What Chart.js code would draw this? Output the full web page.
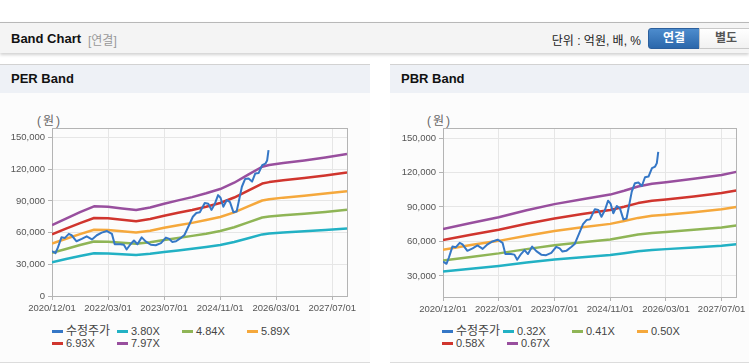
<!DOCTYPE html>
<html lang="ko">
<head>
<meta charset="utf-8">
<title>Band Chart</title>
<script src="https://cdn.jsdelivr.net/npm/chart.js@4.4.0/dist/chart.umd.js"></script>
<style>
    html, body { margin: 0; padding: 0; background: #fff; }
    body {
        position: relative; width: 749px; height: 364px; overflow: hidden;
        font-family: 'Liberation Sans', 'Noto Sans CJK KR', sans-serif; color: #222;
    }
    .topbar {
        position: absolute; left: 0; top: 22px; width: 749px; height: 30px;
        background: #f4f4f4; border-top: 1px solid #b8b8b8;
        box-shadow: 0 2px 3px rgba(0, 0, 0, 0.18);
    }
    .topbar .title { position: absolute; left: 11px; top: 8px; font-size: 13px; font-weight: bold; color: #111; }
    .topbar .sub { position: absolute; left: 88px; top: 8px; font-size: 12px; color: #999; }
    .topbar .unit { position: absolute; right: 108px; top: 8px; font-size: 12px; color: #222; }
    .btn {
        position: absolute; top: 5px; height: 19px; line-height: 19px; text-align: center;
        font-size: 12px; font-weight: bold;
    }
    .btn.on {
        left: 648px; width: 50px; color: #fff; border: 1px solid #2c5f9c; border-radius: 3px 0 0 3px;
        background: linear-gradient(#4d8ccd, #2b67ab);
    }
    .btn.off {
        left: 699px; width: 52px; color: #555; border: 1px solid #c8c8c8;
        background: linear-gradient(#fff, #f1f1f1);
    }
    .panel {
        position: absolute; top: 64px; height: 297px; background: #fcfcfc;
        border-top: 1px solid #d2d2d2; border-bottom: 1px solid #dcdcdc;
    }
    .panel .head {
        height: 28px; background: #eef1f6; font-size: 13px; font-weight: bold; color: #111;
        line-height: 28px; padding-left: 11px;
    }
    .panel canvas { position: absolute; left: 0; top: 45px; }
    .unitlabel { position: absolute; top: 46px; font-size: 12px; color: #666; letter-spacing: 2px; }
    .legend-item {
        position: absolute; font-size: 11px; color: #444; height: 13px; line-height: 13px; white-space: nowrap;
    }
    .legend-item b { font-weight: normal; font-size: 12px; }
    .legend-item i {
        display: inline-block; width: 11px; height: 3px; margin-right: 3px; vertical-align: middle;
        position: relative; top: -1px;
    }
</style>
</head>
<body>
<div class="topbar">
    <span class="title">Band Chart</span>
    <span class="sub">[연결]</span>
    <span class="unit">단위 : 억원, 배, %</span>
    <div class="btn on">연결</div>
    <div class="btn off">별도</div>
</div>

<div class="panel" id="perPanel" style="left:0; width:370px;">
    <div class="head">PER Band</div>
    <span class="unitlabel" style="left:37px;">(원)</span>
    <canvas id="perChart" width="370" height="211"></canvas>
</div>

<div class="panel" id="pbrPanel" style="left:390px; width:359px;">
    <div class="head">PBR Band</div>
    <span class="unitlabel" style="left:37px;">(원)</span>
    <canvas id="pbrChart" width="359" height="211"></canvas>
</div>

<script>
// x axis: months counted from 2020/12/01
const tickMonths = [0, 16, 32, 48, 64, 80];
const tickLabels = ['2020/12/01', '2022/03/01', '2023/07/01', '2024/11/01', '2026/03/01', '2027/07/01'];
const yTicks = [0, 30000, 60000, 90000, 120000, 150000];

// adjusted share price (수정주가), same in both charts
const priceMonths = [0, 1.0, 1.7, 2.7, 3.7, 4.8, 5.6, 7.0, 8.5, 9.9, 11.4, 12.8, 14.2, 15.7, 17.1, 17.9,
    19.5, 20.5, 21.3, 22.4, 23.4, 24.4, 25.6, 26.8, 28.2, 29.6, 31.1, 32.5, 33.5, 34.3, 35.4, 36.9,
    37.8, 39.1, 40.2, 41.2, 42.2, 43.6, 44.6, 45.5, 46.5, 47.4, 48.1, 48.9, 49.9, 50.8, 51.8, 52.7,
    54.2, 55.1, 56.1, 57.1, 58.0, 59.0, 60.0, 60.9, 61.4, 61.8];
const priceValues = [42500, 40500, 46000, 55500, 55000, 58800, 57500, 51800, 54000, 56500, 53500, 57500, 60000, 61500, 58800, 49000,
    49000, 48500, 44000, 49000, 52500, 49000, 55500, 51500, 48500, 48000, 50000, 55300, 54000, 51200, 51800, 55300,
    57700, 67000, 75000, 78600, 79200, 88000, 87400, 81500, 87400, 95500, 93000, 84500, 90900, 88800, 79200, 80000,
    103400, 110700, 111300, 108300, 115900, 116500, 123800, 125200, 128200, 138000];

// PER band
const perMonths = [0, 4, 8, 12, 16, 20, 24, 28, 32, 36, 40, 44, 48, 52, 56, 60, 62, 66, 72, 78, 84.2];
const per380 = [32000, 35000, 37800, 40500, 40300, 39500, 38800, 39900, 41600, 43100, 44700, 46400, 48300, 51100, 54700, 58300, 59100, 60000, 61200, 62500, 64000];
const per484 = [40800, 44500, 48200, 51500, 51300, 50300, 49400, 50800, 53000, 54900, 56900, 59000, 61500, 65100, 69700, 74300, 75300, 76500, 77900, 79600, 81600];
const per589 = [49600, 54200, 58600, 62700, 62400, 61300, 60100, 61800, 64500, 66900, 69200, 71900, 74800, 79200, 84800, 90400, 91600, 93100, 94800, 96900, 99200];
const per693 = [58400, 63800, 69000, 73800, 73500, 72100, 70700, 72800, 75900, 78700, 81400, 84500, 88000, 93200, 99800, 106400, 107800, 109500, 111600, 114000, 116800];
const per797 = [67100, 73300, 79300, 84900, 84500, 82900, 81300, 83700, 87300, 90500, 93600, 97200, 101200, 107200, 114800, 122300, 123900, 125900, 128300, 131100, 134300];

// PBR band
const pbrMonths = [0, 8, 16, 24, 32, 40, 48, 52, 56, 60, 64, 72, 80, 84.2];
const pbr032 = [33800, 36300, 38700, 41600, 44200, 46200, 48200, 49800, 51500, 52600, 53300, 54700, 56300, 57600];
const pbr041 = [43300, 46500, 49600, 53300, 56600, 59200, 61700, 63800, 66000, 67400, 68300, 70100, 72200, 73800];
const pbr050 = [52800, 56800, 60500, 65000, 69000, 72300, 75300, 77800, 80500, 82300, 83300, 85500, 88000, 90000];
const pbr058 = [61200, 65800, 70200, 75400, 80000, 83800, 87300, 90200, 93400, 95400, 96600, 99200, 102100, 104400];
const pbr067 = [70700, 76000, 81100, 87100, 92500, 96800, 100800, 104200, 107900, 110200, 111600, 114600, 117900, 120600];

const COLORS = ['#3577c6', '#22b1c4', '#8fb556', '#f5a83c', '#d0352e', '#984f9e'];
const TICK_FONT = { family: "'Liberation Sans', sans-serif", size: 9.5 };

function toPoints(xs, ys) {
    return xs.map((x, i) => ({ x: x, y: ys[i] }));
}

// grey frame around the plot area
const frameBox = {
    id: 'frameBox',
    beforeDatasetsDraw(chart) {
        const a = chart.chartArea;
        const ctx = chart.ctx;
        ctx.save();
        ctx.strokeStyle = '#b4b4b4';
        ctx.lineWidth = 1;
        ctx.strokeRect(Math.round(a.left) + 0.5, Math.round(a.top) + 0.5,
            Math.round(a.right - a.left), Math.round(a.bottom - a.top));
        ctx.restore();
    }
};

function buildLegend(panel, labels, slots) {
    labels.forEach((label, i) => {
        const item = document.createElement('span');
        item.className = 'legend-item';
        item.style.left = slots[i][0] + 'px';
        item.style.top = slots[i][1] + 'px';
        const text = /[가-힣]/.test(label) ? '<b>' + label + '</b>' : label;
        item.innerHTML = '<i style="background:' + COLORS[i] + '"></i>' + text;
        panel.appendChild(item);
    });
}

function makeBandChart(canvasId, bandMonths, bands, labels, yMin, yMax, yWidth, xHeight, padRight) {
    const datasets = [{
        label: labels[0],
        data: toPoints(priceMonths, priceValues),
        borderColor: COLORS[0],
        borderWidth: 2
    }];
    bands.forEach((values, i) => {
        datasets.push({
            label: labels[i + 1],
            data: toPoints(bandMonths, values),
            borderColor: COLORS[i + 1],
            borderWidth: 2.5
        });
    });

    const grid = { color: '#e6e6e6', tickColor: '#b4b4b4', tickLength: 4 };

    return new Chart(document.getElementById(canvasId), {
        type: 'line',
        data: { datasets: datasets },
        options: {
            responsive: false,
            animation: false,
            layout: { padding: { top: 18, right: padRight, left: 0, bottom: 0 } },
            plugins: { legend: { display: false }, tooltip: { enabled: false } },
            elements: { point: { radius: 0 }, line: { tension: 0, borderJoinStyle: 'round' } },
            scales: {
                x: {
                    type: 'linear', min: 0, max: 84.2,
                    afterBuildTicks: s => { s.ticks = tickMonths.map(v => ({ value: v })); },
                    afterFit: s => { s.height = xHeight; },
                    ticks: {
                        autoSkip: false, maxRotation: 0, padding: 3, color: '#555', font: TICK_FONT,
                        callback: v => tickLabels[tickMonths.indexOf(v)]
                    },
                    grid: grid,
                    border: { display: false }
                },
                y: {
                    min: yMin, max: yMax,
                    afterBuildTicks: s => {
                        s.ticks = yTicks.filter(v => v >= yMin && v <= yMax).map(v => ({ value: v }));
                    },
                    afterFit: s => { s.width = yWidth; },
                    ticks: {
                        padding: 3, color: '#555', font: TICK_FONT,
                        callback: v => v.toLocaleString('en-US')
                    },
                    grid: grid,
                    border: { display: false }
                }
            }
        },
        plugins: [frameBox]
    });
}

const perLabels = ['수정주가', '3.80X', '4.84X', '5.89X', '6.93X', '7.97X'];
const pbrLabels = ['수정주가', '0.32X', '0.41X', '0.50X', '0.58X', '0.67X'];

makeBandChart('perChart', perMonths, [per380, per484, per589, per693, per797], perLabels,
    0, 159000, 52, 25, 23);
makeBandChart('pbrChart', pbrMonths, [pbr032, pbr041, pbr050, pbr058, pbr067], pbrLabels,
    11600, 158800, 53, 24, 12);

buildLegend(document.getElementById('perPanel'), perLabels,
    [[52, 260], [117, 260], [182, 260], [247, 260], [52, 272], [117, 272]]);
buildLegend(document.getElementById('pbrPanel'), pbrLabels,
    [[52, 260], [113, 260], [182, 260], [247, 260], [52, 272], [117, 272]]);
</script>
</body>
</html>
